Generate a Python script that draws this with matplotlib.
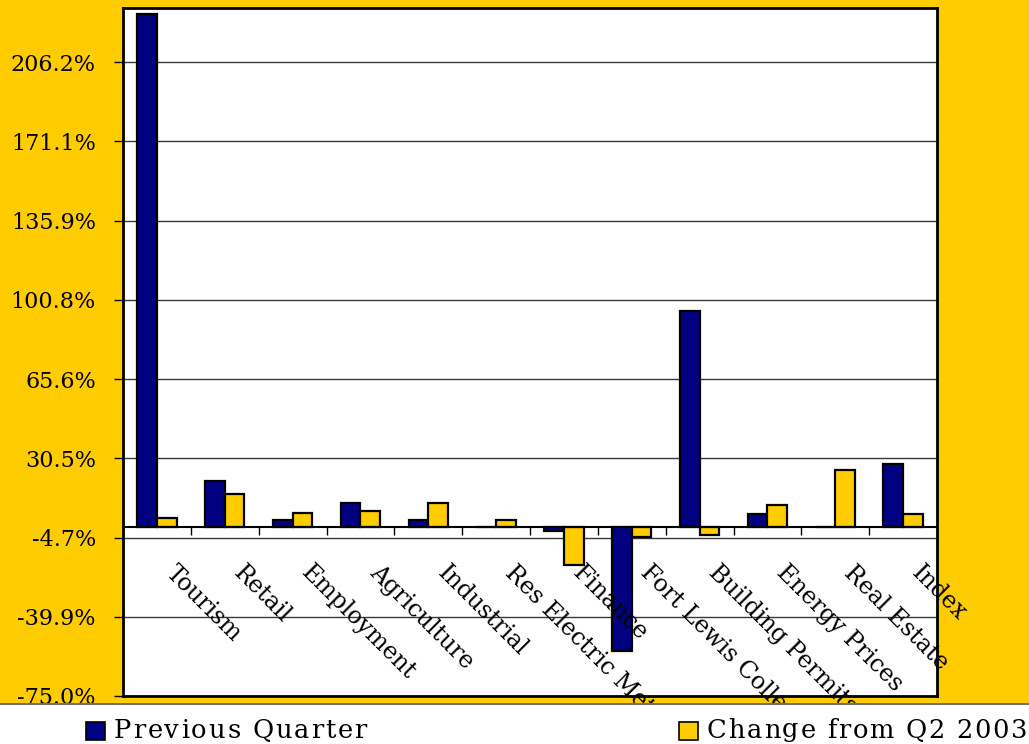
import matplotlib
matplotlib.use("Agg")
import matplotlib.pyplot as plt
from matplotlib.patches import Rectangle

# Indicator categories
categories = ["Tourism", "Retail", "Employment", "Agriculture", "Industrial",
              "Res Electric Meters", "Finance", "Fort Lewis College",
              "Building Permits", "Energy Prices", "Real Estate", "Index"]

# Percent change values per series
previous_quarter = [227.5, 20.4, 3.3, 10.8, 3.1, 0.0, -2.0, -54.9, 95.7, 5.9, 0.0, 28.1]
change_from_q2_2003 = [4.2, 14.8, 6.1, 7.0, 10.8, 3.1, -16.8, -4.4, -3.7, 9.6, 25.1, 5.9]

series_names = ["Previous Quarter", "Change from Q2 2003"]

# Value axis tick labels
y_ticks = [-75.0, -39.9, -4.7, 30.5, 65.6, 100.8, 135.9, 171.1, 206.2]

NAVY = "#000080"
GOLD = "#FFCC00"
SERIF = "DejaVu Serif"

W, H = 1029, 744
fig = plt.figure(figsize=(W / 100, H / 100), dpi=100)
fig.patch.set_facecolor(GOLD)

ax = fig.add_axes([123 / W, 1 - 696 / H, (937 - 123) / W, (696 - 8) / H])
ax.set_facecolor("white")

n = len(categories)
x = list(range(n))
bw = 0.29
ax.bar([i - bw / 2 for i in x], previous_quarter, width=bw, color=NAVY,
       edgecolor="black", linewidth=1.6, zorder=2)
ax.bar([i + bw / 2 for i in x], change_from_q2_2003, width=bw, color=GOLD,
       edgecolor="black", linewidth=1.6, zorder=2)

ax.set_xlim(-0.5, n - 0.5)
ax.set_ylim(-75.0, 230.3)

# horizontal gridlines at each value tick
ax.set_yticks(y_ticks)
ax.set_yticklabels([f"{v:.1f}%" for v in y_ticks], fontfamily=SERIF, fontsize=16)
ax.yaxis.grid(True, color="#383838", linewidth=1.0)
ax.set_axisbelow(True)
ax.tick_params(axis="y", direction="out", length=6.5, width=1, color="black", pad=13)
ax.set_xticks([])

for s in ax.spines.values():
    s.set_linewidth(2)
    s.set_color("black")

# category axis drawn at zero with tick marks between groups
ax.axhline(0, color="black", linewidth=1.5, zorder=3)
ax.vlines([i + 0.5 for i in range(n - 1)], -3.6, 0, color="black", linewidth=1, zorder=3)

# rotated category labels hanging below the zero line
for i, name in enumerate(categories):
    ax.annotate(name, xy=(i, 0), xytext=(15.0, -24.5), textcoords="offset points",
                rotation=-45, rotation_mode="anchor", ha="left", va="top",
                fontfamily=SERIF, fontsize=17, color="black",
                annotation_clip=False, zorder=4)

# white legend strip along the bottom edge
lax = fig.add_axes([0, 0, 1, 41 / H])
lax.set_xlim(0, W)
lax.set_ylim(41, 0)
lax.set_facecolor("white")
lax.axis("off")
lax.add_patch(Rectangle((0, 0), W, 41, facecolor="white", edgecolor="none"))
lax.axhline(0.5, color="#707070", linewidth=1.5)

renderer = fig.canvas.get_renderer()


def spaced_text(axis, x0, y0, s, gap, **kw):
    """Write s one glyph at a time with extra tracking of `gap` pixels."""
    xc = x0
    for ch in s:
        t = axis.text(xc, y0, ch, ha="left", va="center", **kw)
        if ch == " ":
            probe = axis.text(0, 0, "a a", **kw)
            w_full = probe.get_window_extent(renderer).width
            probe.set_text("aa")
            w = w_full - probe.get_window_extent(renderer).width
            probe.remove()
        else:
            w = t.get_window_extent(renderer).width
        xc += w + gap


legend_items = [(86, NAVY, series_names[0], 1.9), (679, GOLD, series_names[1], 1.75)]
for x0, col, label, gap in legend_items:
    lax.add_patch(Rectangle((x0, 19), 19, 18, facecolor=col, edgecolor="black", linewidth=1.2))
    spaced_text(lax, x0 + 28, 27, label, gap, fontfamily=SERIF, fontsize=18.5, color="black")

fig.savefig("out.png", dpi=100, facecolor=fig.get_facecolor())
